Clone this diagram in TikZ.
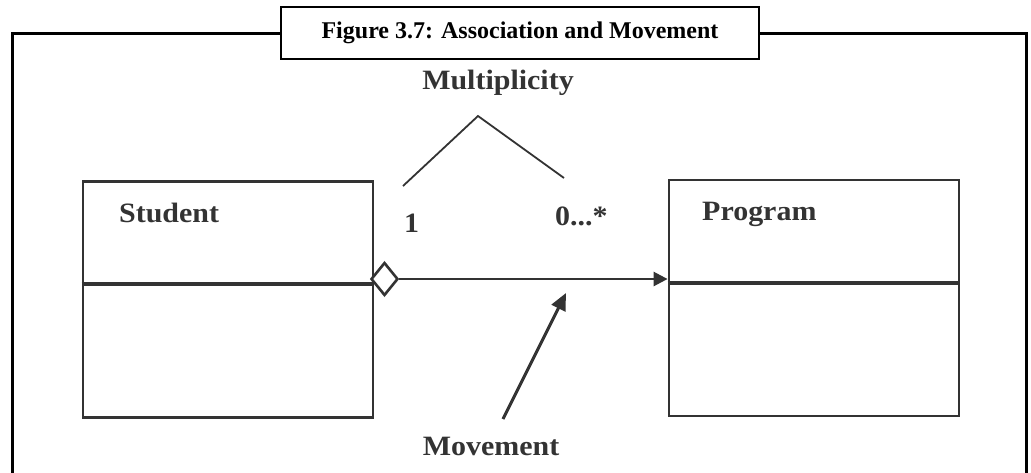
\documentclass[tikz,border=0pt]{standalone}
\usepackage{fontspec}
\setmainfont{Liberation Serif}
\newfontfamily\labelfont[FakeStretch=1.07]{Liberation Serif}
\usetikzlibrary{arrows.meta,shapes.geometric}
\definecolor{ink}{HTML}{333333}
\begin{document}
\begin{tikzpicture}[x=1pt,y=-1pt,
  frameline/.style={line width=3pt,black},
  titlebox/.style={draw=black,line width=2.6pt,fill=white,minimum width=478pt,minimum height=52pt,inner sep=0pt,
    font=\fontsize{24}{28}\selectfont\bfseries},
  classbox/.style={draw=ink,line width=2.8pt,minimum width=290pt,minimum height=236pt,inner sep=0pt},
  divider/.style={draw=ink,line width=3.6pt},
  lbl/.style={text=ink,inner sep=0pt,anchor=base west,font=\labelfont\fontsize{28}{32}\selectfont\bfseries},
  conn/.style={draw=ink,line width=2.6pt},
  thin/.style={draw=ink,line width=1.8pt},
  tip/.style={-{Triangle[length=14pt,width=14pt]}}]
\useasboundingbox (0,0) rectangle (1031,472);

% outer frame with its caption box
\node[titlebox] (title) at (520,33) {Figure 3.7: Association and Movement};
\draw[frameline] (12,473) -- (12,33) -- (title.west);
\draw[frameline] (title.east) -- (1026,33) -- (1026,473);

% the two classes
\node[classbox] (student) at (228,299.5) {};
\node[classbox] (program) at (814,298) {};
\draw[divider] (student.west |- 0,284) -- (student.east |- 0,284);
\draw[divider] (program.west |- 0,283) -- (program.east |- 0,283);
\node[lbl] (studentname) at (119,222) {Student};
\node[lbl] (programname) at (702,220) {Program};

% association with aggregation diamond and navigation arrow
\node[diamond,draw=ink,line width=2.6pt,fill=white,minimum width=27pt,minimum height=33pt,inner sep=0pt]
  (agg) at (384.5,279) {};
\draw[conn,tip] (agg.east) -- (agg.east -| program.west);

% multiplicities
\node[lbl] (one) at (404,232) {1};
\node[lbl] (many) at (555,225) {0...*};
\node[lbl,anchor=base] (mult) at (498,89) {Multiplicity};
\coordinate (mleft) at (403,186);
\coordinate (mapex) at (478,116);
\coordinate (mright) at (564,178);
\draw[thin] (mleft) -- (mapex) -- (mright);

% movement pointer
\node[lbl,anchor=base] (move) at (491,455) {Movement};
\coordinate (mvtail) at (503,419);
\coordinate (mvtip) at (566,293);
\draw[conn,line width=3pt,-{Triangle[length=17pt,width=15pt]}] (mvtail) -- (mvtip);
\end{tikzpicture}
\end{document}
